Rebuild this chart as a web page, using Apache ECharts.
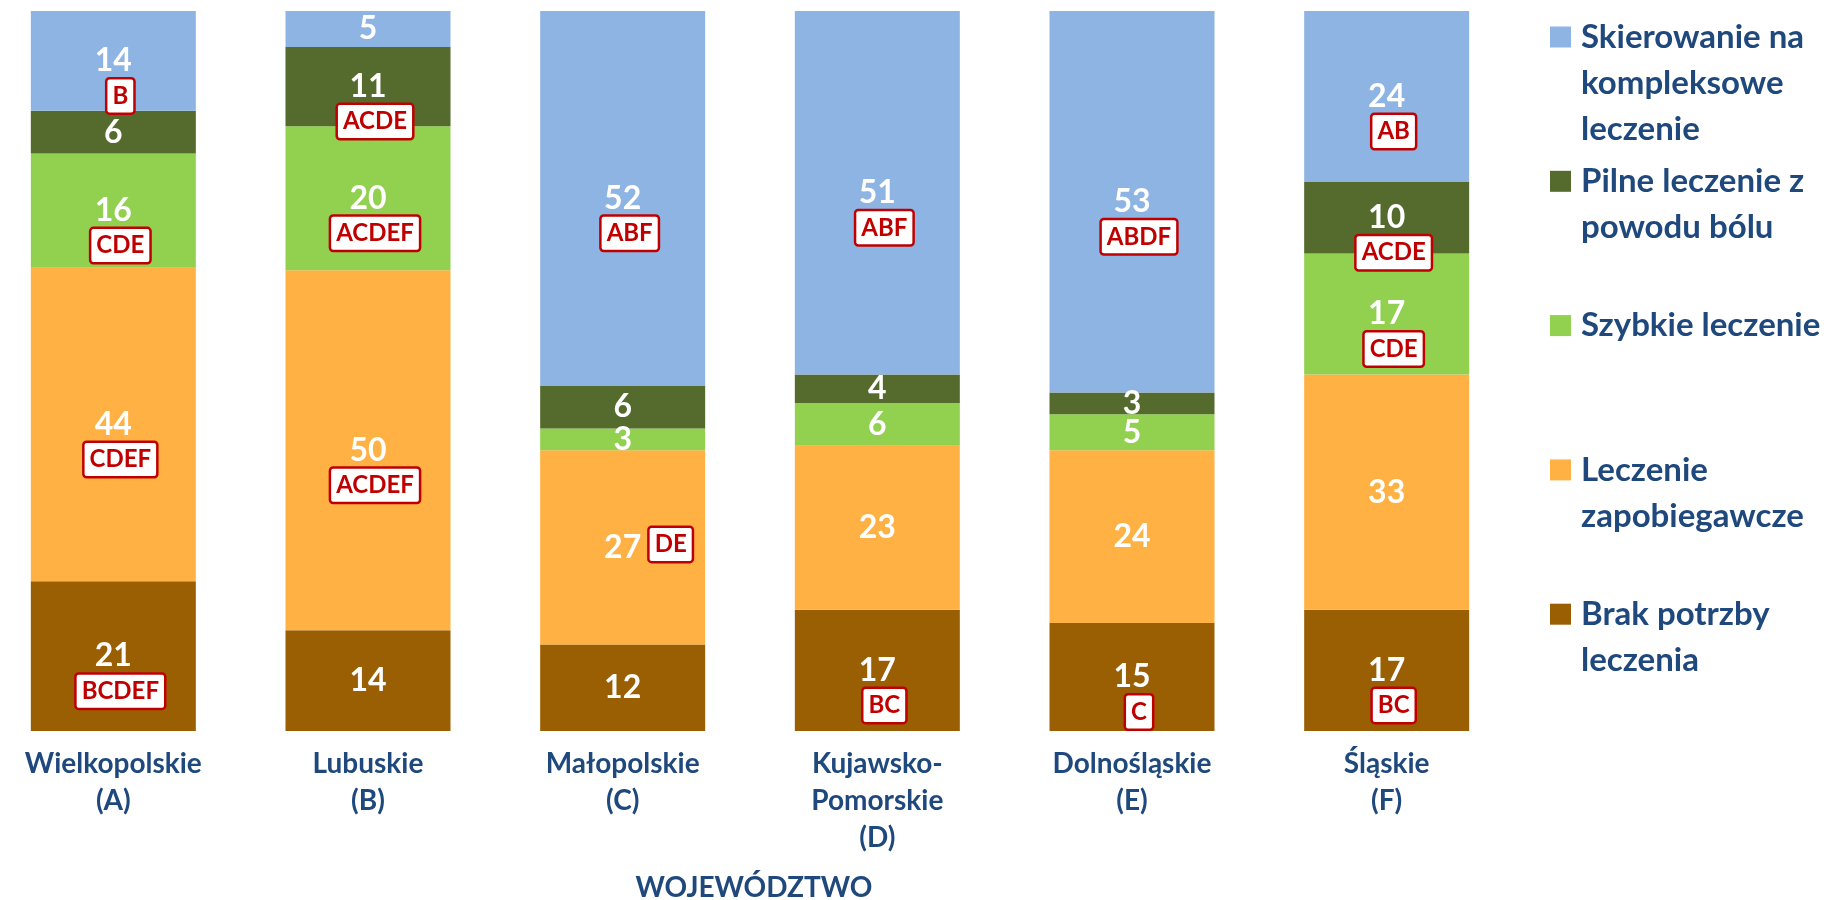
<!DOCTYPE html>
<html>
<head>
<meta charset="utf-8">
<script src="https://cdn.jsdelivr.net/npm/echarts@6/dist/echarts.min.js"></script>
<style>
  html, body { margin: 0; padding: 0; background: #ffffff; }
  #chart { width: 1833px; height: 900px; }
</style>
</head>
<body>
<div id="chart"></div>
<script>
// Regions (voivodeships) and their letter codes
const regions = ['Wielkopolskie', 'Lubuskie', 'Małopolskie', 'Kujawsko-\nPomorskie', 'Dolnośląskie', 'Śląskie'];
const regionCodes = ['A', 'B', 'C', 'D', 'E', 'F'];

// Series, bottom of the stack first
const seriesNames = [
  'Brak potrzby leczenia',
  'Leczenie zapobiegawcze',
  'Szybkie leczenie',
  'Pilne leczenie z powodu bólu',
  'Skierowanie na kompleksowe leczenie'
];
const legendLabels = [
  'Brak potrzby\nleczenia',
  'Leczenie\nzapobiegawcze',
  'Szybkie leczenie',
  'Pilne leczenie z\npowodu bólu',
  'Skierowanie na\nkompleksowe\nleczenie'
];

// Percentages per region (A..F)
const brakPotrzby   = [21, 14, 12, 17, 15, 17];
const zapobiegawcze = [44, 50, 27, 23, 24, 33];
const szybkie       = [16, 20,  3,  6,  5, 17];
const pilne         = [ 6, 11,  6,  4,  3, 10];
const skierowanie   = [14,  5, 52, 51, 53, 24];

// Regions from which the value differs significantly
const brakPotrzbyDiff   = ['BCDEF', '', '', 'BC', 'C', 'BC'];
const zapobiegawczeDiff = ['CDEF', 'ACDEF', 'DE', '', '', ''];
const szybkieDiff       = ['CDE', 'ACDEF', '', '', '', 'CDE'];
const pilneDiff         = ['', 'ACDE', '', '', '', 'ACDE'];
const skierowanieDiff   = ['B', '', 'ABF', 'ABF', 'ABDF', 'AB'];

const values = [brakPotrzby, zapobiegawcze, szybkie, pilne, skierowanie];
const diffs = [brakPotrzbyDiff, zapobiegawczeDiff, szybkieDiff, pilneDiff, skierowanieDiff];
const colors = ['#9A5F02', '#FFB243', '#92D050', '#546B2D', '#8EB4E3'];

const FONT = 'Lato, "Noto Sans", sans-serif';
const TEXT_BLUE = '#1F497D';
const BOX_RED = '#C00000';
const BAR_W = 165;

// 100% stacked: each column is scaled to its own total
const totals = regions.map((_, i) => values.reduce((s, arr) => s + arr[i], 0));
const share = (arr) => arr.map((v, i) => v / totals[i] * 100);

// Letter boxes normally sit under the number; this one sits beside it
const besideBoxes = [[1, 2]]; // [series index, region index]
const isBeside = (k, i) => besideBoxes.some(([a, b]) => a === k && b === i);

const series = [];
values.forEach((arr, k) => {
  series.push({
    name: seriesNames[k],
    type: 'bar',
    stack: 'total',
    barWidth: BAR_W,
    barGap: '-100%',
    itemStyle: { color: colors[k] },
    emphasis: { disabled: true },
    data: share(arr),
    label: {
      show: true,
      position: 'inside',
      formatter: (p) => String(arr[p.dataIndex]),
      color: '#ffffff',
      fontFamily: FONT,
      fontSize: 32,
      fontWeight: 'bold'
    },
    z: 2
  });
});

// Transparent twin stack carrying the significance letter boxes
values.forEach((arr, k) => {
  const letters = diffs[k];
  series.push({
    type: 'bar',
    stack: 'letters',
    barWidth: BAR_W,
    barGap: '-100%',
    silent: true,
    itemStyle: { color: 'rgba(0,0,0,0)' },
    emphasis: { disabled: true },
    data: share(arr).map((v, i) => ({
      value: v,
      label: {
        show: letters[i] !== '',
        offset: isBeside(k, i) ? [48, -3] : [7, 35]
      }
    })),
    label: {
      position: 'inside',
      formatter: (p) => letters[p.dataIndex],
      color: BOX_RED,
      fontFamily: FONT,
      fontSize: 24,
      fontWeight: 'bold',
      lineHeight: 26,
      backgroundColor: '#ffffff',
      borderColor: BOX_RED,
      borderWidth: 2.5,
      borderRadius: 2,
      padding: [4, 5, 3, 5]
    },
    z: 3
  });
});

// One legend block per series, spaced evenly down the right side.
// Leading blank lines keep the swatch level with the first text line.
const LEG_LH = 46;
const legendOrder = [4, 3, 2, 1, 0];
const legends = legendOrder.map((k, j) => {
  const lines = legendLabels[k].split('\n').length;
  const firstLineY = 37 + j * 144.3;
  const text = '\n'.repeat(lines - 1) + legendLabels[k];
  return {
    orient: 'vertical',
    left: 1550,
    top: firstLineY - (2 * lines - 1) * LEG_LH / 2,
    padding: 0,
    itemGap: 0,
    itemWidth: 21,
    itemHeight: 21,
    icon: 'rect',
    selectedMode: false,
    data: [seriesNames[k]],
    formatter: () => text,
    textStyle: {
      fontFamily: FONT,
      fontSize: 33,
      fontWeight: 'bold',
      color: TEXT_BLUE,
      lineHeight: LEG_LH,
      padding: [0, 0, 0, 5]
    }
  };
});

const chart = echarts.init(document.getElementById('chart'), null, { renderer: 'canvas' });
chart.setOption({
  animation: false,
  backgroundColor: '#ffffff',
  title: {
    text: 'WOJEWÓDZTWO',
    left: 754,
    top: 872,
    textAlign: 'center',
    padding: 0,
    textStyle: {
      fontFamily: FONT,
      fontSize: 28,
      fontWeight: 'bold',
      color: TEXT_BLUE,
      lineHeight: 32
    }
  },
  legend: legends,
  grid: {
    left: -14,
    right: 319,
    top: 11,
    bottom: 169,
    containLabel: false,
    outerBoundsMode: 'none'
  },
  xAxis: {
    type: 'category',
    data: regions.map((r, i) => r + '\n(' + regionCodes[i] + ')'),
    axisLine: { show: false },
    axisTick: { show: false },
    splitLine: { show: false },
    axisLabel: {
      interval: 0,
      margin: 14,
      color: TEXT_BLUE,
      fontFamily: FONT,
      fontSize: 28,
      fontWeight: 'bold',
      lineHeight: 37
    }
  },
  yAxis: {
    type: 'value',
    min: 0,
    max: 100,
    show: false
  },
  series: series
});
</script>
</body>
</html>
